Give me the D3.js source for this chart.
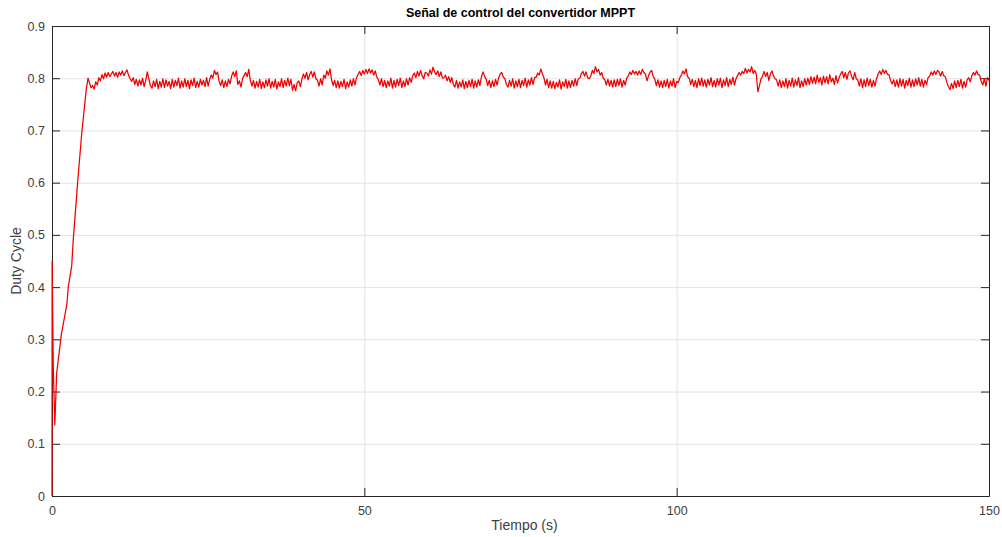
<!DOCTYPE html>
<html>
<head>
<meta charset="utf-8">
<script src="https://cdn.jsdelivr.net/npm/d3@7"></script>
<style>
  body { margin: 0; background: #fff; }
  text { font-family: "Liberation Sans", Arial, Helvetica, sans-serif; }
</style>
</head>
<body>
<svg id="chart" width="1002" height="537"></svg>
<script>
// Texts
const titleText = "Señal de control del convertidor MPPT";
const xLabelText = "Tiempo (s)";
const yLabelText = "Duty Cycle";

// Axis ticks
const xTickValues = [0, 50, 100, 150];
const yTickValues = [0, 0.1, 0.2, 0.3, 0.4, 0.5, 0.6, 0.7, 0.8, 0.9];

// Start-up transient of the duty cycle (time in s, duty cycle)
const startupTime = [0, 0.02, 0.2, 0.45, 0.75, 1.3, 1.5, 2.2, 2.4, 2.6, 3.15, 3.4, 4.1, 4.8, 5.5, 5.76];
const startupDuty = [0, 0.45, 0.25, 0.136, 0.236, 0.29, 0.31, 0.355, 0.37, 0.40, 0.44, 0.49, 0.60, 0.70, 0.78, 0.80];

// Tracking regime: sampled every 0.25 s from t = 6 s to t = 150 s
const steadyStart = 6;
const steadyStep = 0.25;
const steadyDuty = [
  .791,.782,.786,.779, .793,.787,.801,.795, .807,.799,.810,.802, .811,.803,.808,.813, .804,.811,.802,.812,
  .806,.814,.805,.811, .816,.806,.799,.794, .801,.788,.798,.785, .797,.787,.800,.784, .796,.812,.799,.786,
  .781,.795,.784,.798, .780,.794,.783,.799, .782,.797,.785,.794, .780,.798,.783,.796, .786,.800,.781,.795,
  .783,.799,.784,.796, .780,.797,.786,.800, .782,.794,.783,.798, .787,.796,.784,.801, .785,.798,.806,.800,
  .815,.807,.812,.794, .786,.797,.782,.795, .784,.798,.789,.804, .812,.803,.814,.788, .795,.783,.799,.805,
  .811,.803,.817,.796, .785,.796,.781,.794, .783,.798,.780,.793, .782,.797,.785,.799, .781,.794,.783,.798,
  .779,.793,.784,.799, .782,.796,.785,.800, .786,.798,.777,.788, .776,.791,.795,.784, .798,.808,.800,.811,
  .797,.807,.813,.802, .812,.799,.796,.785, .799,.787,.806,.800, .814,.806,.818,.797, .786,.796,.782,.795,
  .781,.794,.784,.798, .780,.793,.783,.797, .785,.799,.787,.801, .807,.813,.805,.815, .808,.817,.809,.818,
  .810,.816,.806,.814, .802,.797,.787,.799, .784,.796,.782,.795, .785,.800,.781,.796, .783,.798,.786,.800,
  .782,.795,.784,.799, .787,.801,.792,.805, .810,.801,.813,.804, .815,.805,.799,.811, .810,.804,.816,.808,
  .821,.812,.807,.814, .803,.812,.800,.801, .806,.795,.803,.792, .801,.788,.783,.796, .781,.793,.783,.797,
  .780,.794,.782,.796, .784,.798,.781,.795, .783,.797,.786,.803, .812,.804,.798,.786, .796,.782,.795,.784,
  .798,.787,.801,.808, .811,.802,.799,.788, .783,.796,.785,.799, .781,.795,.784,.798, .782,.796,.786,.800,
  .783,.797,.787,.801, .788,.801,.802,.810, .806,.818,.808,.801, .787,.798,.782,.795, .781,.794,.780,.792,
  .783,.797,.779,.793, .784,.798,.781,.795, .782,.796,.785,.799, .786,.799,.800,.809, .813,.804,.812,.801,
  .799,.804,.815,.809, .822,.812,.817,.806, .811,.800,.797,.787, .798,.785,.796,.783, .797,.784,.798,.786,
  .799,.783,.796,.787, .800,.804,.812,.807, .815,.808,.813,.806, .814,.807,.817,.811, .808,.795,.805,.812,
  .815,.803,.798,.786, .797,.783,.795,.782, .796,.784,.798,.781, .795,.785,.799,.782, .794,.791,.801,.806,
  .814,.808,.818,.803, .800,.788,.798,.784, .796,.782,.799,.786, .800,.785,.797,.783, .798,.787,.801,.784,
  .796,.783,.799,.787, .800,.782,.797,.786, .801,.784,.798,.788, .802,.787,.799,.805, .811,.806,.813,.809,
  .819,.810,.817,.812, .822,.809,.815,.807, .774,.786,.799,.804, .813,.803,.811,.796, .808,.814,.805,.799,
  .797,.785,.797,.782, .795,.784,.799,.781, .796,.785,.800,.783, .797,.786,.801,.782, .795,.784,.799,.787,
  .800,.788,.803,.790, .802,.789,.806,.792, .801,.787,.804,.791, .803,.789,.807,.793, .800,.788,.805,.791,
  .801,.808,.813,.801, .811,.798,.810,.814, .804,.797,.811,.799, .796,.785,.799,.782, .797,.784,.800,.786,
  .798,.783,.796,.785, .799,.808,.814,.807, .817,.809,.815,.807, .807,.795,.789,.797, .784,.797,.783,.799,
  .785,.798,.781,.796, .786,.800,.783,.797, .784,.799,.787,.801, .785,.798,.783,.796, .788,.801,.804,.812,
  .806,.814,.807,.815, .812,.804,.813,.805, .803,.792,.784,.778, .790,.780,.795,.782, .796,.784,.798,.781,
  .794,.783,.797,.801, .793,.805,.811,.806, .814,.807,.806,.794, .787,.799,.785,.801, .796
];

// Build the (time, duty) series
const series = startupTime.map((t, i) => ({ t, d: startupDuty[i] }))
  .concat(steadyDuty.map((d, i) => ({ t: steadyStart + i * steadyStep, d })));

// Layout
const W = 1002, H = 537;
const margin = { left: 52, right: 13, top: 26, bottom: 41 };
const innerW = W - margin.left - margin.right;
const innerH = H - margin.top - margin.bottom;

const svg = d3.select("#chart");
const x = d3.scaleLinear().domain([0, 150]).range([margin.left, margin.left + innerW]);
const y = d3.scaleLinear().domain([0, 0.9]).range([margin.top + innerH, margin.top]);

const axisColor = "#262626";
const labelColor = "#404040";
const gridColor = "#e3e3e3";
const fmtY = d => (d === 0 ? "0" : d3.format(".1f")(d));

// Grid lines
svg.append("g")
  .attr("transform", `translate(0,${margin.top + innerH})`)
  .call(d3.axisBottom(x).tickValues(xTickValues).tickSize(-innerH).tickFormat(""))
  .call(g => g.select(".domain").remove())
  .call(g => g.selectAll("line").attr("stroke", gridColor).attr("stroke-width", 1));
svg.append("g")
  .attr("transform", `translate(${margin.left},0)`)
  .call(d3.axisLeft(y).tickValues(yTickValues).tickSize(-innerW).tickFormat(""))
  .call(g => g.select(".domain").remove())
  .call(g => g.selectAll("line").attr("stroke", gridColor).attr("stroke-width", 1));

// Axes with inward ticks (box on all four sides)
function styleAxis(g) {
  g.select(".domain").attr("stroke", axisColor).attr("stroke-width", 1);
  g.selectAll(".tick line").attr("stroke", axisColor);
  g.selectAll(".tick text").attr("fill", labelColor).style("font-size", "12.5px")
    .style("font-family", "'Liberation Sans', Arial, sans-serif");
}
svg.append("g")
  .attr("transform", `translate(0,${margin.top + innerH})`)
  .call(d3.axisBottom(x).tickValues(xTickValues).tickSizeInner(-8).tickSizeOuter(0).tickPadding(10))
  .call(styleAxis);
svg.append("g")
  .attr("transform", `translate(0,${margin.top})`)
  .call(d3.axisTop(x).tickValues(xTickValues).tickSizeInner(-8).tickSizeOuter(0).tickFormat(""))
  .call(styleAxis);
svg.append("g")
  .attr("transform", `translate(${margin.left},0)`)
  .call(d3.axisLeft(y).tickValues(yTickValues).tickSizeInner(-8).tickSizeOuter(0).tickPadding(7).tickFormat(fmtY))
  .call(styleAxis);
svg.append("g")
  .attr("transform", `translate(${margin.left + innerW},0)`)
  .call(d3.axisRight(y).tickValues(yTickValues).tickSizeInner(-8).tickSizeOuter(0).tickFormat(""))
  .call(styleAxis);

// Duty-cycle trace, drawn over the axes
const line = d3.line().x(p => x(p.t)).y(p => y(p.d));
svg.append("path")
  .datum(series)
  .attr("fill", "none")
  .attr("stroke", "#f00000")
  .attr("stroke-width", 1.25)
  .attr("stroke-linejoin", "round")
  .attr("d", line);

// Title and axis labels
svg.append("text")
  .attr("x", margin.left + innerW / 2).attr("y", 17)
  .attr("text-anchor", "middle")
  .attr("fill", "#000")
  .style("font-size", "12.5px").style("font-weight", "bold")
  .text(titleText);
svg.append("text")
  .attr("x", margin.left + innerW / 2 + 4).attr("y", 530)
  .attr("text-anchor", "middle")
  .attr("fill", labelColor)
  .style("font-size", "14px")
  .text(xLabelText);
svg.append("text")
  .attr("transform", `translate(21,${margin.top + innerH / 2}) rotate(-90)`)
  .attr("text-anchor", "middle")
  .attr("fill", labelColor)
  .style("font-size", "14px")
  .text(yLabelText);
</script>
</body>
</html>
